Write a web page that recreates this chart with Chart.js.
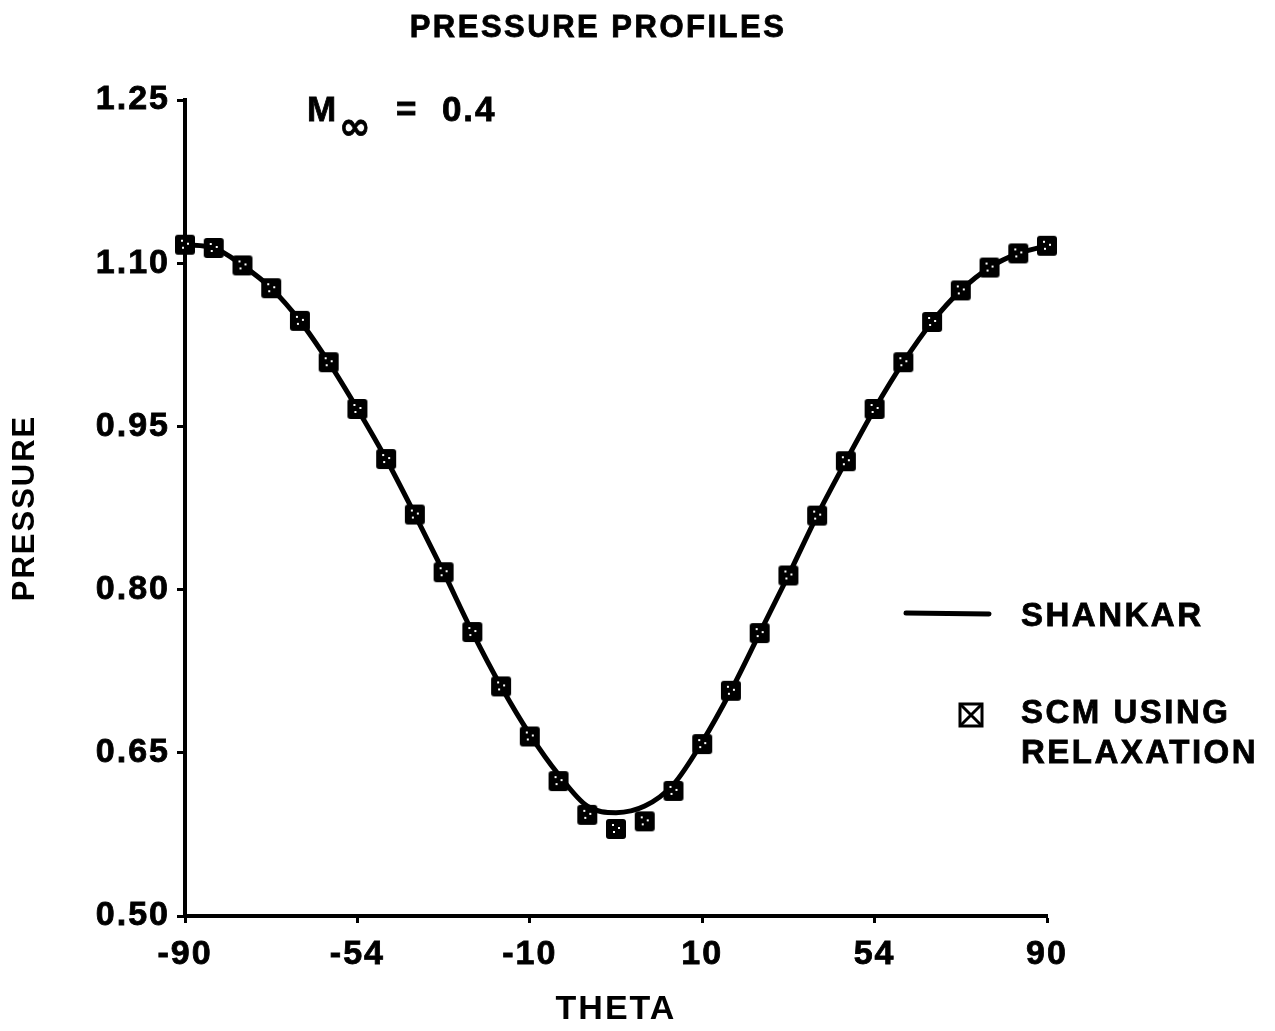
<!DOCTYPE html>
<html>
<head>
<meta charset="utf-8">
<title>Pressure Profiles</title>
<script src="https://cdn.jsdelivr.net/npm/chart.js@4.4.1/dist/chart.umd.min.js"></script>
<style>
  html, body { margin: 0; padding: 0; background: #fff; }
  #wrap { width: 1275px; height: 1031px; }
</style>
</head>
<body>
<div id="wrap"><canvas id="chart" width="1275" height="1031"></canvas></div>
<script>
// theta in degrees, one sample every 6 deg
const thetas = [-90, -84, -78, -72, -66, -60, -54, -48, -42, -36, -30, -24, -18, -12, -6,
                0, 6, 12, 18, 24, 30, 36, 42, 48, 54, 60, 66, 72, 78, 84, 90];

// SHANKAR (solid curve)
const shankar = [1.117, 1.114, 1.098, 1.077, 1.047, 1.009, 0.966, 0.920, 0.869, 0.816, 0.761,
                 0.711, 0.667, 0.630, 0.601, 0.595, 0.601, 0.621, 0.660, 0.707, 0.760, 0.813,
                 0.868, 0.918, 0.966, 1.009, 1.046, 1.075, 1.096, 1.109, 1.116];

// SCM USING RELAXATION (markers)
const scmRelax = [1.117, 1.114, 1.098, 1.077, 1.047, 1.009, 0.966, 0.920, 0.869, 0.816, 0.761,
                  0.711, 0.665, 0.624, 0.593, 0.580, 0.587, 0.615, 0.658, 0.707, 0.760, 0.813,
                  0.868, 0.918, 0.966, 1.009, 1.046, 1.075, 1.096, 1.109, 1.116];

// axis ticks (labels as printed on the original)
const xTickValues = [-90, -54, -18, 18, 54, 90];
const xTickLabels = ['-90', '-54', '-10', '10', '54', '90'];
const yTickValues = [0.50, 0.65, 0.80, 0.95, 1.10, 1.25];

const FONT = "'Liberation Sans', Arial, Helvetica, sans-serif";

// filled square marker with a few white specks, like the printed symbol
function makeMarker() {
    const c = document.createElement('canvas');
    c.width = 22; c.height = 22;
    const g = c.getContext('2d');
    g.fillStyle = '#000';
    g.beginPath();
    g.roundRect(1, 1, 20, 20, 3);
    g.fill();
    g.fillStyle = '#fff';
    g.fillRect(7, 6, 2, 2);
    g.fillRect(13, 9, 2, 2);
    g.fillRect(8, 13, 2, 2);
    return c;
}

const spacingPlugin = {
    id: 'spacing',
    beforeLayout(chart) { chart.ctx.letterSpacing = '2px'; },
    beforeDraw(chart) { chart.ctx.letterSpacing = '2px'; }
};

function boldText(ctx, txt, x, y) {
    ctx.fillText(txt, x, y);
    ctx.strokeText(txt, x, y);
}

// title, Mach annotation and the legend block on the right
const overlayPlugin = {
    id: 'overlay',
    afterDraw(chart) {
        const ctx = chart.ctx;
        ctx.save();
        ctx.fillStyle = '#000';
        ctx.strokeStyle = '#000';
        ctx.lineWidth = 0.8;
        ctx.textBaseline = 'alphabetic';

        ctx.letterSpacing = '2.5px';
        ctx.font = `bold 31px ${FONT}`;
        ctx.textAlign = 'center';
        boldText(ctx, 'PRESSURE PROFILES', 598, 37);

        ctx.textAlign = 'left';
        ctx.letterSpacing = '2px';
        ctx.font = `bold 35px ${FONT}`;
        boldText(ctx, 'M', 307, 121);
        ctx.font = `bold 38px 'DejaVu Sans', ${FONT}`;
        boldText(ctx, '\u221E', 339, 139);
        ctx.font = `bold 35px ${FONT}`;
        boldText(ctx, '=  0.4', 396, 121);

        // legend
        ctx.lineWidth = 5;
        ctx.lineCap = 'round';
        ctx.beginPath();
        ctx.moveTo(906, 613);
        ctx.lineTo(989, 614);
        ctx.stroke();

        ctx.lineWidth = 3;
        ctx.lineCap = 'butt';
        ctx.strokeRect(960, 704, 22, 22);
        ctx.beginPath();
        ctx.moveTo(960, 704); ctx.lineTo(982, 726);
        ctx.moveTo(982, 704); ctx.lineTo(960, 726);
        ctx.stroke();

        ctx.lineWidth = 0.8;
        ctx.letterSpacing = '2.5px';
        ctx.font = `bold 33px ${FONT}`;
        boldText(ctx, 'SHANKAR', 1021, 626);
        boldText(ctx, 'SCM USING', 1021, 723);
        boldText(ctx, 'RELAXATION', 1021, 763);
        ctx.restore();
    }
};

const shankarPts = thetas.map((t, i) => ({ x: t, y: shankar[i] }));
const scmPts = thetas.map((t, i) => ({ x: t, y: scmRelax[i] }));

const tickFont = { family: FONT, size: 34, weight: 'bold' };

new Chart(document.getElementById('chart'), {
    type: 'scatter',
    data: {
        datasets: [
            {
                label: 'SHANKAR',
                data: shankarPts,
                showLine: true,
                borderColor: '#000',
                borderWidth: 5,
                pointRadius: 0,
                cubicInterpolationMode: 'monotone',
                clip: false,
                order: 2
            },
            {
                label: 'SCM USING RELAXATION',
                data: scmPts,
                showLine: false,
                pointStyle: makeMarker(),
                clip: false,
                order: 1
            }
        ]
    },
    options: {
        responsive: false,
        animation: false,
        layout: { padding: { left: 0, top: 100, right: 228, bottom: 0 } },
        plugins: {
            legend: { display: false },
            title: { display: false },
            tooltip: { enabled: false }
        },
        scales: {
            x: {
                type: 'linear',
                min: -90,
                max: 90,
                afterFit(scale) { scale.height = 115; },
                afterBuildTicks(scale) { scale.ticks = xTickValues.map(v => ({ value: v })); },
                grid: { drawOnChartArea: false, drawTicks: true, tickLength: 7, tickWidth: 3, tickColor: '#000' },
                border: { display: true, color: '#000', width: 4 },
                ticks: {
                    color: '#000',
                    padding: 11,
                    maxRotation: 0,
                    font: tickFont,
                    textStrokeColor: '#000',
                    textStrokeWidth: 0.8,
                    callback: (v) => xTickLabels[xTickValues.indexOf(v)]
                },
                title: {
                    display: true,
                    text: 'THETA',
                    color: '#000',
                    padding: { top: 0, bottom: 1 },
                    font: { family: FONT, size: 34, weight: 'bold' }
                }
            },
            y: {
                min: 0.5,
                max: 1.25,
                afterFit(scale) { scale.width = 185; },
                afterBuildTicks(scale) { scale.ticks = yTickValues.map(v => ({ value: v })); },
                grid: { drawOnChartArea: false, drawTicks: true, tickLength: 8, tickWidth: 3, tickColor: '#000' },
                border: { display: true, color: '#000', width: 4 },
                ticks: {
                    color: '#000',
                    padding: 7,
                    font: tickFont,
                    textStrokeColor: '#000',
                    textStrokeWidth: 0.8,
                    callback: (v) => v.toFixed(2)
                },
                title: {
                    display: true,
                    text: 'PRESSURE',
                    color: '#000',
                    padding: { top: 7, bottom: 0 },
                    font: { family: FONT, size: 31, weight: 'bold' }
                }
            }
        }
    },
    plugins: [spacingPlugin, overlayPlugin]
});
</script>
</body>
</html>
